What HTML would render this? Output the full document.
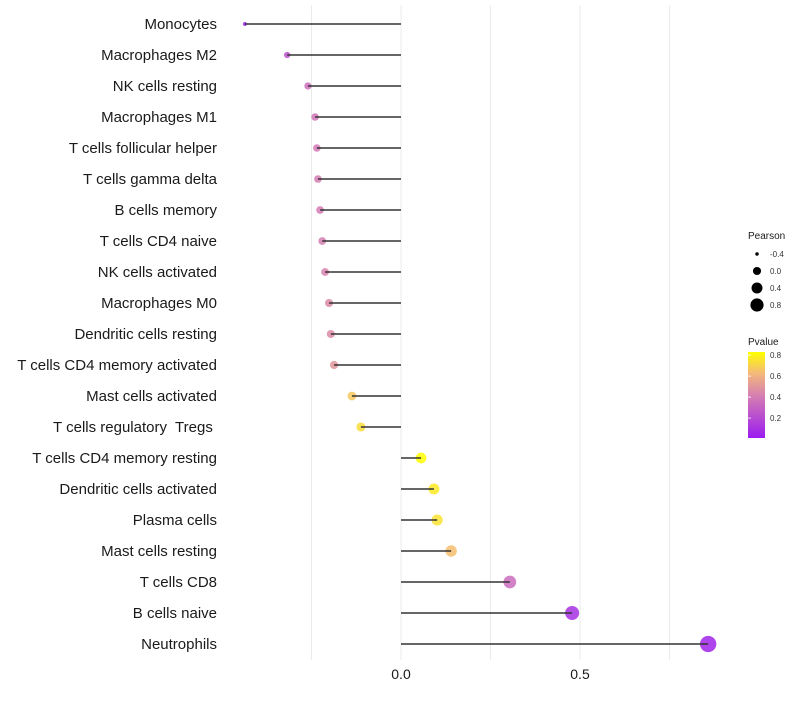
<!DOCTYPE html>
<html><head><meta charset="utf-8"><style>
body{margin:0;background:#fff;font-family:"Liberation Sans",sans-serif}
svg text{font-family:"Liberation Sans",sans-serif;white-space:pre}
</style></head><body>
<svg id="c" width="800" height="700">
<defs><linearGradient id="pg" x1="0" y1="1" x2="0" y2="0">
<stop offset="0" stop-color="#9b1cf0"/><stop offset="0.5" stop-color="#d680b0"/><stop offset="0.75" stop-color="#f3b87a"/><stop offset="1" stop-color="#ffff00"/></linearGradient></defs>
</svg>
<script>
const categories=["Monocytes","Macrophages M2","NK cells resting","Macrophages M1","T cells follicular helper","T cells gamma delta","B cells memory","T cells CD4 naive","NK cells activated","Macrophages M0","Dendritic cells resting","T cells CD4 memory activated","Mast cells activated","T cells regulatory  Tregs ","T cells CD4 memory resting","Dendritic cells activated","Plasma cells","Mast cells resting","T cells CD8","B cells naive","Neutrophils"];
const pearson=[-0.436,-0.318,-0.26,-0.24,-0.235,-0.232,-0.226,-0.22,-0.212,-0.201,-0.196,-0.187,-0.137,-0.112,0.056,0.092,0.101,0.14,0.304,0.478,0.858];
const pvalues=[0.03,0.22,0.33,0.36,0.37,0.38,0.38,0.39,0.41,0.43,0.44,0.48,0.65,0.72,0.83,0.76,0.74,0.62,0.32,0.08,0.04];
const xTicks=[0,0.5];
const gridVals=[-0.25,0.25,0.75];
const sizeLegend=[-0.4,0,0.4,0.8];
const colorTicks=[0.2,0.4,0.6,0.8];
const NS="http://www.w3.org/2000/svg",svg=document.getElementById('c');
const X=v=>401+v*358, Y=i=>24+i*31;
const R=p=>Math.sqrt(Math.max(1,2.25+41.5*(p+0.436)));
const stops=[[0,[155,28,240]],[0.4,[214,128,176]],[0.6,[243,184,122]],[0.83,[255,255,0]]];
function col(p){p=Math.max(0,Math.min(0.83,p));for(let k=1;k<stops.length;k++){if(p<=stops[k][0]){const a=stops[k-1],b=stops[k],t=(p-a[0])/(b[0]-a[0]);return 'rgb('+a[1].map((c,j)=>Math.round(c+(b[1][j]-c)*t)).join(',')+')';}}return 'rgb(255,255,0)';}
function el(t,a,txt){const e=document.createElementNS(NS,t);for(const k in a)e.setAttribute(k,a[k]);if(txt!==undefined)e.textContent=txt;svg.appendChild(e);return e;}
[...gridVals,...xTicks].forEach(v=>{const g=el('line',{x1:X(v),x2:X(v),y1:5,y2:660,stroke:'#ebebeb','stroke-width':1});

});
xTicks.forEach(v=>{const t=el('text',{x:X(v),y:679,'text-anchor':'middle','font-size':14,fill:'#1a1a1a'},v.toFixed(1));

});
categories.forEach((c,i)=>{
const t=el('text',{x:217,y:Y(i)+5,'text-anchor':'end','font-size':15,fill:'#1a1a1a'},c);


const d=el('circle',{cx:X(pearson[i]),cy:Y(i),r:R(pearson[i])*1.04+0.4,fill:col(pvalues[i]),'fill-opacity':0.85});


const l=el('line',{x1:X(0),x2:X(pearson[i]),y1:Y(i),y2:Y(i),stroke:'#333','stroke-width':1.4});


});
let t=el('text',{x:748,y:239,'font-size':10,fill:'#1a1a1a'},'Pearson');


sizeLegend.forEach((v,i)=>{const y=254+i*17;
const c=el('circle',{cx:757,cy:y,r:R(v)*0.9,fill:'#000'});


const tt=el('text',{x:770,y:y+3,'font-size':8,fill:'#333'},v.toFixed(1));

});
t=el('text',{x:748,y:345,'font-size':10,fill:'#1a1a1a'},'Pvalue');


const bar=el('rect',{x:748,y:352,width:17,height:86,fill:'url(#pg)'});


const CY=p=>438-(p-0.01)*(86/0.82);
colorTicks.forEach(v=>{const y=CY(v);
const tt=el('text',{x:770,y:y+3,'font-size':8,fill:'#333'},v.toFixed(1));


const tk=el('line',{x1:748,x2:751,y1:y,y2:y,stroke:'#fff','stroke-width':0.8});

});
</script>
</body></html>
